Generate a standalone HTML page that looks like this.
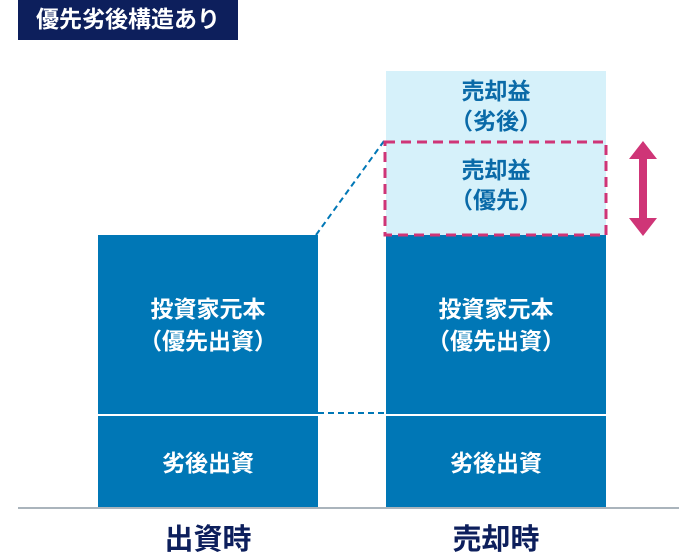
<!DOCTYPE html>
<html><head><meta charset="utf-8"><style>
body{margin:0;width:700px;height:553px;background:#fff;position:relative;overflow:hidden;font-family:"Liberation Sans","Noto Sans CJK JP",sans-serif}
.a{position:absolute}
.t{text-align:center;font-weight:bold;font-size:23px;line-height:32px}
</style></head><body>
<div class="a" style="left:18px;top:0;width:220px;height:40px;background:#0d1f5c;color:#fff;font-size:23px;font-weight:bold;line-height:38px;text-align:center">優先劣後構造あり</div>
<div class="a" style="left:98px;top:235px;width:220px;height:273px;background:#0077b6"></div>
<div class="a" style="left:386px;top:235px;width:220px;height:273px;background:#0077b6"></div>
<div class="a" style="left:386px;top:71px;width:220px;height:164px;background:#d6f1fa"></div>
<div class="a" style="left:98px;top:414px;width:508px;height:2px;background:#fff"></div>
<div class="a" style="left:18px;top:507px;width:661px;height:2px;background:#aab4bc"></div>
<svg class="a" style="left:0;top:0" width="700" height="553">
<line x1="316" y1="235" x2="384" y2="141" stroke="#0077b6" stroke-width="2" stroke-dasharray="6,4"/>
<line x1="318" y1="413" x2="386" y2="413" stroke="#0077b6" stroke-width="2" stroke-dasharray="6,4"/>
<rect x="385" y="142" width="221" height="93" fill="none" stroke="#cf3577" stroke-width="3" stroke-dasharray="10,6"/>
<polygon points="643,141 657,159 647,159 647,218 657,218 643,236 629,218 639,218 639,159 629,159" fill="#cf3577"/>
</svg>
<div class="a t" style="left:386px;top:76px;width:220px;color:#0a6aa8;line-height:30px">売却益<br>（劣後）</div>
<div class="a t" style="left:386px;top:155px;width:220px;color:#0a6aa8;line-height:30px">売却益<br>（優先）</div>
<div class="a t" style="left:98px;top:293px;width:220px;color:#fff">投資家元本<br>（優先出資）</div>
<div class="a t" style="left:386px;top:293px;width:220px;color:#fff">投資家元本<br>（優先出資）</div>
<div class="a t" style="left:98px;top:447px;width:220px;color:#fff">劣後出資</div>
<div class="a t" style="left:386px;top:447px;width:220px;color:#fff">劣後出資</div>
<div class="a" style="left:98px;top:522px;width:220px;color:#0d1f5c;text-align:center;font-weight:bold;font-size:29px;line-height:36px">出資時</div>
<div class="a" style="left:386px;top:522px;width:220px;color:#0d1f5c;text-align:center;font-weight:bold;font-size:29px;line-height:36px">売却時</div>
</body></html>
